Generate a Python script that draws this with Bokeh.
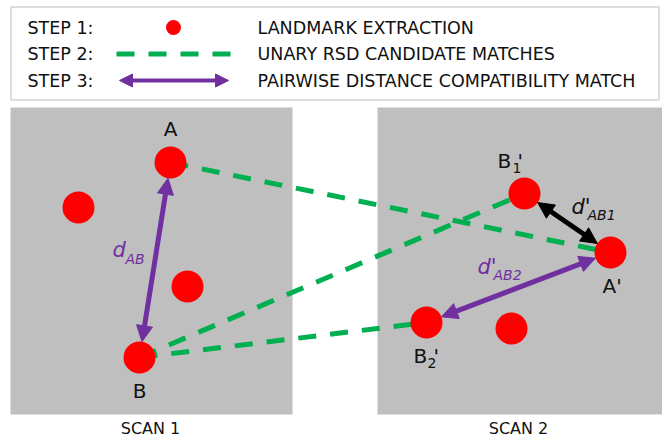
import numpy as np
from bokeh.plotting import figure
from bokeh.models import Range1d, Arrow, NormalHead
from bokeh.core.properties import value
from bokeh.embed import file_html
from bokeh.resources import INLINE

# ---------------- data ----------------
step_labels = ["STEP 1:", "STEP 2:", "STEP 3:"]
step_texts = ["LANDMARK EXTRACTION", "UNARY RSD CANDIDATE MATCHES",
              "PAIRWISE DISTANCE COMPATIBILITY MATCH"]
scan_labels = ["SCAN 1", "SCAN 2"]

# landmark positions (scan 1 : A, -, -, B ; scan 2 : B1', A', B2', -)
scan1_x = [170, 78, 187, 139]
scan1_y = [162, 207, 286, 357]
scan2_x = [524, 610, 426, 511]
scan2_y = [193, 252, 322, 328]

# unary candidate matches : scan1 index -> scan2 index
match_from = [0, 3, 3]
match_to = [1, 0, 2]

# ---------------- style ----------------
RED = "#FF0000"
GREEN = "#00B050"
PURPLE = "#7030A0"
GRAY = "#BFBFBF"
TXT = "#111111"
FONT = value("DejaVu Sans")
R = 16

p = figure(width=662, height=443, x_range=Range1d(0, 662), y_range=Range1d(443, 0),
           output_backend="svg", toolbar_location=None, min_border=0)
p.axis.visible = False
p.grid.visible = False
p.outline_line_color = None
p.background_fill_color = "white"
p.border_fill_color = "white"

# legend box
p.quad(left=[10.5], right=[658.5], top=[6.5], bottom=[99.5], fill_color="white",
       line_color="#D4D4D4", line_width=1.5)

# scan panels
p.quad(left=[10, 377], right=[292, 662], top=[107, 107], bottom=[414, 414],
       fill_color=GRAY, line_color=None)

# green candidate match lines
x0 = [scan1_x[i] for i in match_from]
y0 = [scan1_y[i] for i in match_from]
x1 = [scan2_x[j] for j in match_to]
y1 = [scan2_y[j] for j in match_to]
p.segment(x0=x0, y0=y0, x1=x1, y1=y1, line_color=GREEN, line_width=5,
          line_dash="18 14")

# landmarks
p.scatter(x=scan1_x + scan2_x, y=scan1_y + scan2_y, size=2 * R, marker="circle",
          fill_color=RED, line_color=None)


def add_arrow(xa, ya, xb, yb, color, lw=5, size=16, shrink=R):
    d = np.array([xb - xa, yb - ya], dtype=float)
    u = d / np.hypot(*d)
    sx, sy = xa + u[0] * shrink, ya + u[1] * shrink
    ex, ey = xb - u[0] * shrink, yb - u[1] * shrink
    p.add_layout(Arrow(x_start=sx, y_start=sy, x_end=ex, y_end=ey,
                       line_color=color, line_width=lw,
                       start=NormalHead(size=size, fill_color=color, line_color=color),
                       end=NormalHead(size=size, fill_color=color, line_color=color)))


# pairwise distance arrows
add_arrow(scan1_x[0], scan1_y[0], scan1_x[3], scan1_y[3], PURPLE)
add_arrow(scan2_x[0], scan2_y[0], scan2_x[1], scan2_y[1], "black")
add_arrow(scan2_x[1], scan2_y[1], scan2_x[2], scan2_y[2], PURPLE)

# legend contents
rows_y = [27, 53.5, 80]
p.text(x=[27] * 3, y=rows_y, text=step_labels, text_font=FONT,
       text_font_size="17.5px", text_align="left", text_baseline="middle",
       text_color=TXT)
p.text(x=[257] * 3, y=rows_y, text=step_texts, text_font=FONT,
       text_font_size="17.5px", text_align="left", text_baseline="middle",
       text_color=TXT)
p.scatter(x=[173], y=[rows_y[0]], size=15, marker="circle", fill_color=RED,
          line_color=None)
p.segment(x0=[116], y0=[rows_y[1]], x1=[231], y1=[rows_y[1]], line_color=GREEN,
          line_width=5, line_dash="18 14")
add_arrow(119, rows_y[2], 228, rows_y[2], PURPLE, lw=4, size=13, shrink=0)

# point labels
big = "20px"
small = "14px"
p.text(x=[scan1_x[0], scan1_x[3]], y=[128, 390], text=["A", "B"], text_font=FONT,
       text_font_size=big, text_align="center", text_baseline="middle",
       text_color=TXT)
# A'
p.text(x=[602], y=[285], text=["A'"], text_font=FONT, text_font_size=big,
       text_align="left", text_baseline="middle", text_color=TXT)
# B1', B2'
p.text(x=[497, 413], y=[160, 355], text=["B", "B"], text_font=FONT,
       text_font_size=big, text_align="left", text_baseline="middle",
       text_color=TXT)
p.text(x=[512, 427], y=[167, 362], text=["1", "2"], text_font=FONT,
       text_font_size=small, text_align="left", text_baseline="middle",
       text_color=TXT)
p.text(x=[517, 433], y=[160, 355], text=["'", "'"], text_font=FONT,
       text_font_size=big, text_align="left", text_baseline="middle",
       text_color=TXT)

# distance labels
p.text(x=[112], y=[249], text=["d"], text_font=FONT, text_font_size="21px",
       text_font_style="italic", text_align="left", text_baseline="middle",
       text_color=PURPLE)
p.text(x=[125], y=[258], text=["AB"], text_font=FONT, text_font_size=small,
       text_font_style="italic", text_align="left", text_baseline="middle",
       text_color=PURPLE)
p.text(x=[571], y=[206], text=["d'"], text_font=FONT, text_font_size="21px",
       text_font_style="italic", text_align="left", text_baseline="middle",
       text_color=TXT)
p.text(x=[587], y=[214], text=["AB1"], text_font=FONT, text_font_size=small,
       text_font_style="italic", text_align="left", text_baseline="middle",
       text_color=TXT)
p.text(x=[477], y=[266], text=["d'"], text_font=FONT, text_font_size="21px",
       text_font_style="italic", text_align="left", text_baseline="middle",
       text_color=PURPLE)
p.text(x=[493], y=[274], text=["AB2"], text_font=FONT, text_font_size=small,
       text_font_style="italic", text_align="left", text_baseline="middle",
       text_color=PURPLE)

# scan labels
p.text(x=[150, 518], y=[428, 428], text=scan_labels, text_font=FONT,
       text_font_size="16px", text_align="center", text_baseline="middle",
       text_color=TXT)

open("out.html", "w").write(file_html(p, INLINE))
